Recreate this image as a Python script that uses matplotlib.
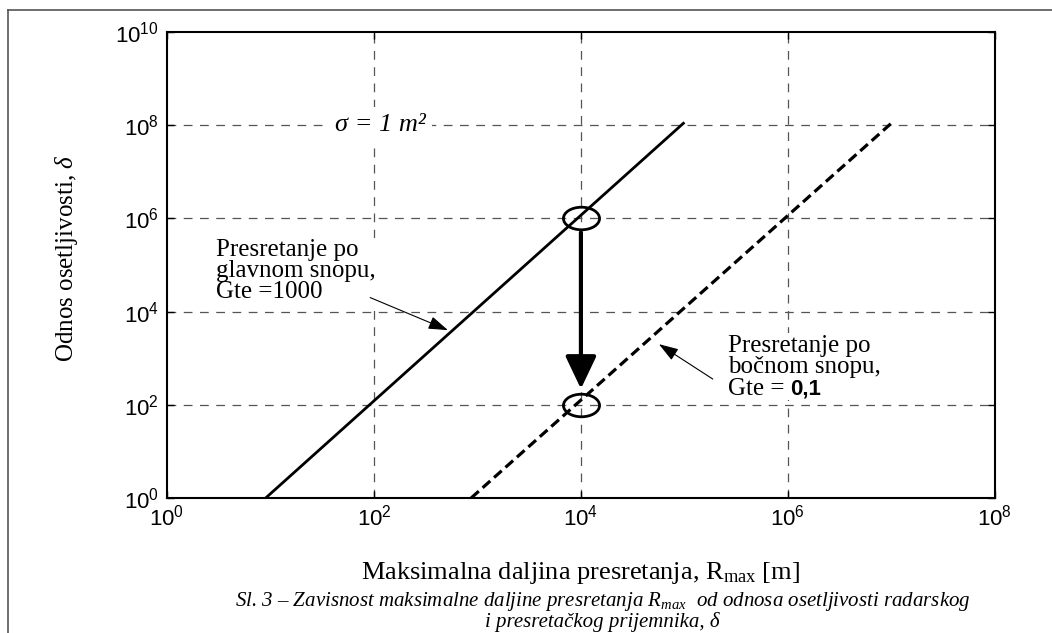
import numpy as np
import matplotlib
matplotlib.use('Agg')
import matplotlib.pyplot as plt
from matplotlib.path import Path
from matplotlib.transforms import Affine2D
from matplotlib.lines import Line2D
from matplotlib.ticker import FixedLocator, NullLocator

# Podaci (ocitano sa slike)
R_glavni = [9, 1e5]          # glavni snop, Gte = 1000
delta_glavni = [1, 1.15e8]
R_bocni = [870, 1.02e7]      # bocni snop, Gte = 0,1
delta_bocni = [1, 1.15e8]

R_tacka = [1e4, 1e4]         # zaokruzene tacke
delta_tacka = [1e6, 1e2]

x_ticks = [1e0, 1e2, 1e4, 1e6, 1e8]
x_tick_labels = ['0', '2', '4', '6', '8']
y_ticks = [1e0, 1e2, 1e4, 1e6, 1e8, 1e10]
y_tick_labels = ['0', '2', '4', '6', '8', '10']

SERIF = 'Liberation Serif'
SANS = 'Liberation Sans'

plt.rcParams['mathtext.fontset'] = 'custom'
plt.rcParams['mathtext.rm'] = 'Liberation Serif'
plt.rcParams['mathtext.it'] = 'Liberation Serif:italic'
plt.rcParams['mathtext.bf'] = 'Liberation Serif:bold'

fig = plt.figure(figsize=(10.52, 6.33), dpi=100)
ax = fig.add_axes([0.1587, 0.2133, 0.787, 0.7361])

ax.set_xscale('log')
ax.set_yscale('log')
ax.set_xlim(1e0, 1e8)
ax.set_ylim(1e0, 1e10)

# Mreza
grid_style = dict(color='#555555', lw=0.9, linestyle=(0, (7, 6)), zorder=0)
for xv in x_ticks[1:-1]:
    ax.axvline(xv, **grid_style)
for yv in y_ticks[1:-1]:
    ax.axhline(yv, **grid_style)

ax.xaxis.set_major_locator(FixedLocator(x_ticks))
ax.yaxis.set_major_locator(FixedLocator(y_ticks))
ax.xaxis.set_minor_locator(NullLocator())
ax.yaxis.set_minor_locator(NullLocator())
ax.set_xticklabels([r'$\mathregular{10^{%s}}$' % s for s in x_tick_labels])
ax.set_yticklabels([r'$\mathregular{10^{%s}}$' % s for s in y_tick_labels])
ax.tick_params(which='both', direction='in', top=True, right=True, length=5,
               width=1, labelsize=16)
ax.tick_params(axis='x', pad=5)
ax.tick_params(axis='y', pad=6)
for lab in ax.get_xticklabels() + ax.get_yticklabels():
    lab.set_fontfamily(SANS)
for sp in ax.spines.values():
    sp.set_linewidth(1.5)
    sp.set_zorder(5)

# Krive
ax.plot(R_glavni, delta_glavni, color='k', lw=2.0, solid_capstyle='butt', zorder=3)
ax.plot(R_bocni, delta_bocni, color='k', lw=2.3, linestyle=(0, (3.2, 1.6)), zorder=3)

# Elipse oko tacaka
ell = Path.unit_circle().transformed(Affine2D().scale(1.6, 1.0))
ax.plot(R_tacka, delta_tacka, linestyle='none', marker=ell, markersize=26,
        markerfacecolor='none', markeredgecolor='k', markeredgewidth=2.0, zorder=4)

# Debela strelica izmedju tacaka
ax.annotate('', xy=(1e4, 2.2e2), xytext=(1e4, 5.0e5),
            arrowprops=dict(arrowstyle='-|>,head_length=0.8,head_width=0.38',
                            lw=3, color='k', shrinkA=0, shrinkB=0,
                            mutation_scale=25), zorder=4)

# Tekst sigma
ax.text(115, 1e8, 'σ = 1 m²', family=SERIF, style='italic', fontsize=19,
        ha='center', va='center', zorder=2,
        bbox=dict(facecolor='white', edgecolor='none', pad=5))

# Glavni snop
ax.text(3.0, 3.6e5, 'Presretanje po\nglavnom snopu,\nGte =1000', family=SERIF,
        fontsize=18, ha='left', va='top', linespacing=0.95, zorder=2,
        bbox=dict(facecolor='white', edgecolor='none', pad=1))
ax.annotate('', xy=(519, 4.0e3), xytext=(92, 2.0e4),
            arrowprops=dict(arrowstyle='-|>,head_length=0.6,head_width=0.2',
                            lw=0.8, color='k', shrinkA=0, shrinkB=0,
                            mutation_scale=20), zorder=4)

# Bocni snop
t2 = ax.text(2.63e5, 3.2e3, 'Presretanje po\nbočnom snopu,', family=SERIF,
             fontsize=18, ha='left', va='top', linespacing=0.95, zorder=2,
             bbox=dict(facecolor='white', edgecolor='none', pad=1))
t3 = ax.annotate('Gte = ', xy=(0, 0), xycoords=t2, family=SERIF, fontsize=18,
                 ha='left', va='top', zorder=2,
                 bbox=dict(facecolor='white', edgecolor='none', pad=0))
ax.annotate('0,1', xy=(1, 0), xycoords=t3, family=SANS, fontsize=16,
            fontweight='bold', ha='left', va='bottom', zorder=2)
ax.annotate('', xy=(5.67e4, 2.0e3), xytext=(1.88e5, 357),
            arrowprops=dict(arrowstyle='-|>,head_length=0.6,head_width=0.2',
                            lw=0.8, color='k', shrinkA=0, shrinkB=0,
                            mutation_scale=20), zorder=4)

# Oznake osa
ax.set_ylabel('Odnos osetljivosti, $\\delta$', family=SERIF, fontsize=18)
ax.yaxis.set_label_coords(-0.105, 0.515)
fig.text(0.552, 1 - 579 / 633, 'Maksimalna daljina presretanja, R$_\\mathregular{max}$ [m]',
         family=SERIF, fontsize=19, ha='center', va='baseline')

# Potpis slike
fig.text(0.573, 1 - 606 / 633,
         'Sl. 3 – Zavisnost maksimalne daljine presretanja R$_\\mathregular{max}$  od odnosa osetljivosti radarskog',
         family=SERIF, style='italic', fontsize=15, ha='center', va='baseline')
fig.text(0.573, 1 - 627 / 633, 'i presretačkog prijemnika, δ',
         family=SERIF, style='italic', fontsize=15, ha='center', va='baseline')

# Okvir oko slike (gornja i leva ivica)
fig.add_artist(Line2D([8 / 1052, 1.0], [1 - 10 / 633, 1 - 10 / 633], color='#555555', lw=1.2))
fig.add_artist(Line2D([8 / 1052, 8 / 1052], [0.0, 1 - 10 / 633], color='#555555', lw=1.2))

fig.savefig('out.png', dpi=100)
